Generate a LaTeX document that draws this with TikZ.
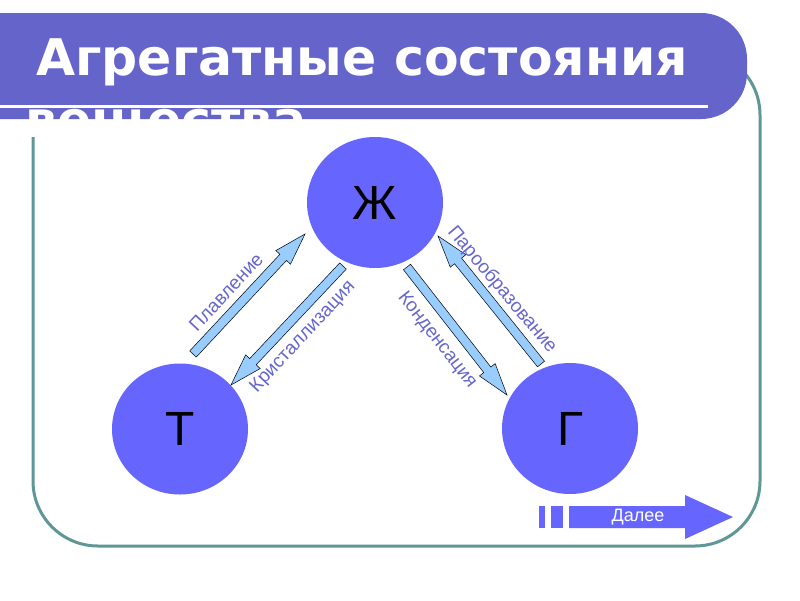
\documentclass[tikz,border=0pt]{standalone}
\usepackage{fontspec}
\setmainfont{Liberation Sans}
\newfontfamily\titlefont{DejaVu Sans}
\usetikzlibrary{calc,shapes.geometric}
\definecolor{barblue}{RGB}{100,100,202}
\definecolor{circblue}{RGB}{102,102,255}
\definecolor{arrowfill}{RGB}{153,204,255}
\definecolor{framecol}{RGB}{95,150,150}
\definecolor{labcol}{RGB}{102,102,204}
\newcommand\blkarrow[2]{%
  \path ($(#2)!32pt!(#1)$) coordinate (tmpN);
  \draw[blockarrow] ($(#1)!4.5pt!90:(#2)$) -- ($(tmpN)!4.5pt!90:(#2)$) -- ($(tmpN)!10pt!90:(#2)$) -- (#2)
    -- ($(tmpN)!10pt!-90:(#2)$) -- ($(tmpN)!4.5pt!-90:(#2)$) -- ($(#1)!4.5pt!-90:(#2)$) -- cycle;}
\begin{document}
\begin{tikzpicture}[x=1pt,y=-1pt,
  blockarrow/.style={fill=arrowfill,draw=black,line width=0.5pt,line join=miter},
  statenode/.style={ellipse,fill=circblue,minimum width=136pt,minimum height=131pt,inner sep=0pt,
    font=\fontsize{48}{48}\selectfont},
  lab/.style={text=labcol,font=\fontsize{19}{19}\selectfont,inner sep=0pt},
  titletext/.style={text=white,font=\titlefont\bfseries\fontsize{50.5}{62}\selectfont,inner sep=0pt,anchor=base west}]
\useasboundingbox[fill=white] (0,0) rectangle (800,600);
% frame
\draw[framecol,line width=3pt,rounded corners=65pt] (33,300) -- (33,50) -- (760,50) -- (760,546) -- (33,546) -- cycle;
% title bar
\fill[barblue,rounded corners=46pt] (-60,13) rectangle (747,119);
\fill[white] (0,104.5) rectangle (708,107.5);
\node[titletext] (title1) at (36,75) {Агрегатные состояния};
\node[titletext] (title2) at (25,137) {вещества};
% states
\node[statenode] (zh) at (375,202.5) {\raisebox{-4pt}{Ж}};
\node[statenode] (t) at (180,429) {\raisebox{-4pt}{Т}};
\node[statenode] (g) at (570,428.5) {\raisebox{-4pt}{Г}};
% arrow end points
\coordinate (a1s) at (193,354); \coordinate (a1e) at (305,234);
\coordinate (a2s) at (343,266); \coordinate (a2e) at (231,385);
\coordinate (a3s) at (407,267); \coordinate (a3e) at (507,395);
\coordinate (a4s) at (541,364); \coordinate (a4e) at (438,236);
\blkarrow{a1s}{a1e}
\blkarrow{a2s}{a2e}
\blkarrow{a3s}{a3e}
\blkarrow{a4s}{a4e}
% labels
\node[lab,rotate=47] (l1) at (226,292) {Плавление};
\node[lab,rotate=47] (l2) at (303,337) {Кристаллизация};
\node[lab,rotate=-52] (l3) at (437,340) {Конденсация};
\node[lab,rotate=-50] (l4) at (502,290) {Парообразование};
% next button
\fill[circblue] (539,506) rectangle (545,528);
\fill[circblue] (551,506) rectangle (563,528);
\fill[circblue] (569,506) -- (685,506) -- (685,495) -- (733,517) -- (685,539) -- (685,528) -- (569,528) -- cycle;
\node[text=white,font=\fontsize{18}{18}\selectfont,inner sep=0pt] (next) at (638,517) {Далее};
\end{tikzpicture}
\end{document}
